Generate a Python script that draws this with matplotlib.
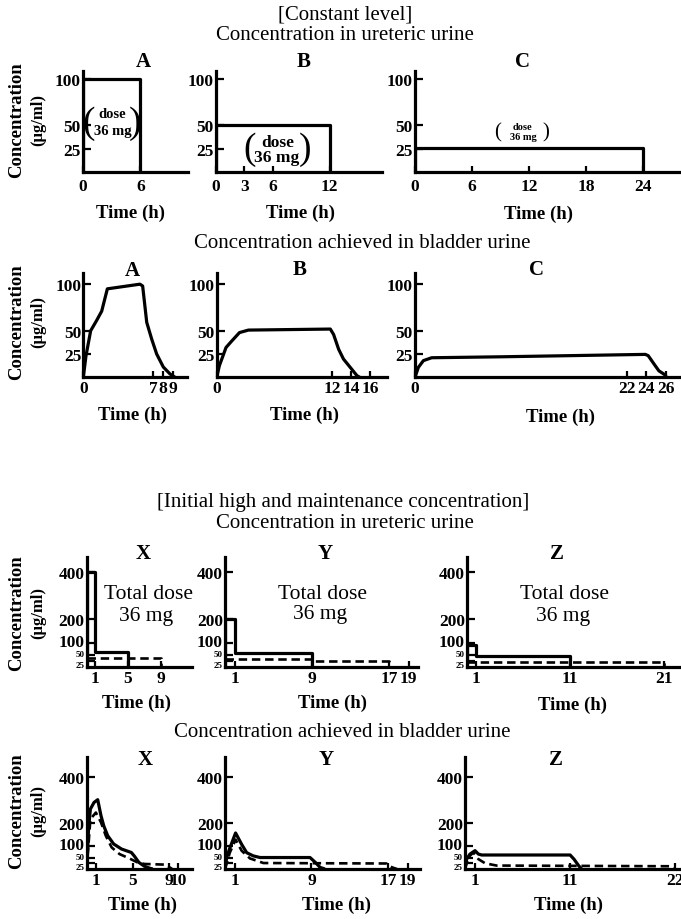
import matplotlib
matplotlib.use("Agg")
import matplotlib.pyplot as plt
from matplotlib.transforms import ScaledTranslation

plt.rcParams['font.family'] = ['Liberation Serif', 'DejaVu Serif']

W, H = 681, 920

# ---------------- data ----------------
# Constant level - ureteric urine (step profiles)
a_ure_t = [0, 0, 6, 6]
a_ure_c = [0, 100, 100, 0]
b_ure_t = [0, 0, 12, 12]
b_ure_c = [0, 50, 50, 0]
c_ure_t = [0, 0, 24, 24]
c_ure_c = [0, 26, 26, 0]

# Constant level - bladder urine
a_bl_t = [0, 0.27, 0.74, 1.34, 1.85, 2.42, 5.7, 5.97, 6.38, 6.88, 7.38, 8.05, 8.72, 9.23]
a_bl_c = [0, 23, 50, 61, 71, 95, 100, 98, 59, 41, 25, 11, 3.6, 0]
b_bl_t = [0, 0.28, 0.97, 1.57, 2.37, 3.3, 11.83, 12.17, 12.7, 13.2, 13.9, 14.6, 14.9]
b_bl_c = [0, 12.5, 32, 39, 48, 50.7, 51.8, 46, 30, 19.6, 10.7, 1.8, 0]
c_bl_t = [0, 0.35, 0.87, 1.73, 8.8, 23.9, 24.2, 24.8, 25.3, 25.8, 26.1]
c_bl_c = [0, 10.7, 17.9, 21, 22, 24.6, 23.2, 14.3, 7, 3.6, 1]

# Initial high + maintenance - ureteric urine (solid) and constant reference (dashed)
x_ure_t = [0, 0, 1, 1, 5, 5]
x_ure_c = [0, 400, 400, 65, 65, 0]
x_ure_ref_t = [0, 9, 9]
x_ure_ref_c = [37, 37, 0]
y_ure_t = [0, 0, 1, 1, 9, 9]
y_ure_c = [0, 200, 200, 58, 58, 0]
y_ure_ref_t = [0, 9, 9, 17, 17]
y_ure_ref_c = [33, 33, 28, 28, 0]
z_ure_t = [0, 0, 1, 1, 11, 11]
z_ure_c = [0, 95, 95, 49, 49, 0]
z_ure_ref_t = [0, 21, 21]
z_ure_ref_c = [22, 22, 0]

# Initial high + maintenance - bladder urine
x_bl_t = [0, 0.2, 0.4, 0.8, 1.2, 1.56, 1.86, 2.29, 2.94, 3.8, 4.87, 5.22, 5.68, 6.29, 6.91, 7.2]
x_bl_c = [0, 174, 261, 290, 302, 232, 188, 145, 109, 87, 72, 55, 29, 12, 3, 0]
x_bl_ref_t = [0, 0.4, 1.0, 1.56, 2.08, 2.72, 3.58, 4.66, 5.52, 6.29, 8.6, 9.05, 9.32]
x_bl_ref_c = [0, 217, 246, 203, 145, 94, 65, 46, 29, 22, 19, 7, 0]
y_bl_t = [0, 0.17, 0.52, 1.1, 1.74, 2.26, 2.95, 3.65, 8.85, 9.4, 9.9, 10.4]
y_bl_c = [0, 50, 93, 157, 107, 71, 57, 50, 50, 29, 7, 0]
y_bl_ref_t = [0, 0.5, 1.1, 1.74, 2.6, 4, 16.8, 17.4, 17.9]
y_bl_ref_c = [0, 71, 128, 79, 46, 26, 24, 7, 0]
z_bl_t = [0, 0.17, 0.52, 1.05, 1.4, 1.75, 11.0, 11.4, 11.9, 12.2]
z_bl_c = [0, 43, 65, 80, 65, 61, 61, 43, 14, 0]
z_bl_ref_t = [0, 0.35, 0.87, 1.4, 2.1, 3.3, 21.5, 22.0]
z_bl_ref_c = [0, 51, 72, 43, 25, 15, 12, 0]

# ticks
ticks_a_ure = [0, 6]
ticks_b_ure = [0, 3, 6, 12]
ticks_c_ure = [0, 6, 12, 18, 24]
ticks_a_bl = [0, 7, 8, 9]
ticks_b_bl = [0, 12, 14, 16]
ticks_c_bl = [0, 22, 24, 26]
ticks_x_ure = [1, 5, 9]
ticks_y_ure = [1, 9, 17, 19]
ticks_z_ure = [1, 11, 21]
ticks_x_bl = [1, 5, 9, 10]
ticks_y_bl = [1, 9, 17, 19]
ticks_z_bl = [1, 11, 22]
conc_ticks_low = [25, 50, 100]
conc_ticks_high = [25, 50, 100, 200, 400]

fig = plt.figure(figsize=(W / 100, H / 100), dpi=100)

LW = 2.3
TICKFS = 12.5


def px(x, y):
    return x / W, 1 - y / H


def shift(lab, dy_px):
    lab.set_transform(lab.get_transform() + ScaledTranslation(0, dy_px / 100, fig.dpi_scale_trans))


def make_ax(xl, xr, yb, yt, xlim, ylim, xticks, yticks, xpad=3, small_low=False):
    ax = fig.add_axes([xl / W, 1 - yb / H, (xr - xl) / W, (yb - yt) / H])
    ax.set_xlim(*xlim)
    ax.set_ylim(*ylim)
    for s in ['top', 'right']:
        ax.spines[s].set_visible(False)
    for s in ['left', 'bottom']:
        ax.spines[s].set_linewidth(LW)
        ax.spines[s].set_capstyle('projecting')
    ax.set_xticks(xticks)
    ax.set_xticklabels([str(t) for t in xticks])
    ax.set_yticks(yticks)
    ax.set_yticklabels([str(t) for t in yticks])
    ax.tick_params(axis='both', direction='in', width=1.6, labelsize=TICKFS)
    ax.tick_params(axis='y', length=6, pad=1.5)
    ax.tick_params(axis='x', length=4, pad=xpad)
    for lab in ax.get_xticklabels() + ax.get_yticklabels():
        lab.set_fontweight('bold')
    if small_low:
        for lab, v in zip(ax.get_yticklabels(), yticks):
            if v == 50:
                lab.set_fontsize(6.5)
                shift(lab, 2.0)
            elif v == 25:
                lab.set_fontsize(6.5)
                shift(lab, -2.5)
            elif v == 100:
                shift(lab, 3.0)
    ax.patch.set_alpha(0)
    return ax


def solid(ax, t, c):
    ax.plot(t, c, color='black', lw=LW, solid_joinstyle='round', solid_capstyle='butt')


def dashed(ax, t, c):
    ax.plot(t, c, color='black', lw=1.9, linestyle=(0, (3.2, 1.8)))


def text(x, y, s, size, weight='normal', **kw):
    fx, fy = px(x, y)
    fig.text(fx, fy, s, fontsize=size, fontweight=weight, ha='center', va='center', **kw)


# ---------------- Row 1 ----------------
ax = make_ax(82.5, 187.6, 173.3, 72, (0, 10.9), (0, 108), ticks_a_ure, conc_ticks_low, xpad=4)
solid(ax, a_ure_t, a_ure_c)
ax = make_ax(215.8, 382, 173.3, 72, (0, 17.5), (0, 108), ticks_b_ure, conc_ticks_low, xpad=4)
solid(ax, b_ure_t, b_ure_c)
ax = make_ax(414.8, 681, 173.3, 72, (0, 28), (0, 108), ticks_c_ure, conc_ticks_low, xpad=4)
solid(ax, c_ure_t, c_ure_c)

# ---------------- Row 2 ----------------
ax = make_ax(83.3, 186.7, 378.3, 274, (0, 10.4), (0, 112), ticks_a_bl, conc_ticks_low, xpad=2)
solid(ax, a_bl_t, a_bl_c)
ax = make_ax(216.7, 386.7, 378.3, 274, (0, 17.7), (0, 112), ticks_b_bl, conc_ticks_low, xpad=2)
solid(ax, b_bl_t, b_bl_c)
ax = make_ax(415, 681, 378.3, 274, (0, 27.6), (0, 112), ticks_c_bl, conc_ticks_low, xpad=2)
solid(ax, c_bl_t, c_bl_c)

# ---------------- Row 3 ----------------
ax = make_ax(86.7, 191.7, 668.3, 558, (0, 12.8), (0, 461), ticks_x_ure, conc_ticks_high, xpad=2, small_low=True)
solid(ax, x_ure_t, x_ure_c)
dashed(ax, x_ure_ref_t, x_ure_ref_c)
ax = make_ax(225, 418.3, 668.3, 558, (0, 20.0), (0, 461), ticks_y_ure, conc_ticks_high, xpad=2, small_low=True)
solid(ax, y_ure_t, y_ure_c)
dashed(ax, y_ure_ref_t, y_ure_ref_c)
ax = make_ax(466.9, 681, 668.3, 558, (0, 22.8), (0, 461), ticks_z_ure, conc_ticks_high, xpad=2, small_low=True)
solid(ax, z_ure_t, z_ure_c)
dashed(ax, z_ure_ref_t, z_ure_ref_c)

# ---------------- Row 4 ----------------
ax = make_ax(86.7, 191.7, 870, 758, (0, 11.45), (0, 488), ticks_x_bl, conc_ticks_high, xpad=2, small_low=True)
solid(ax, x_bl_t, x_bl_c)
dashed(ax, x_bl_ref_t, x_bl_ref_c)
ax = make_ax(225, 420, 870, 758, (0, 20.3), (0, 488), ticks_y_bl, conc_ticks_high, xpad=2, small_low=True)
solid(ax, y_bl_t, y_bl_c)
dashed(ax, y_bl_ref_t, y_bl_ref_c)
ax = make_ax(465, 681, 870, 758, (0, 22.6), (0, 488), ticks_z_bl, conc_ticks_high, xpad=2, small_low=True)
solid(ax, z_bl_t, z_bl_c)
dashed(ax, z_bl_ref_t, z_bl_ref_c)

# ---------------- Titles & labels ----------------
TFS = 15
text(345, 15, "[Constant level]", TFS)
text(345, 35, "Concentration in ureteric urine", TFS)
text(362, 243, "Concentration achieved in bladder urine", TFS)
text(343, 503, "[Initial high and maintenance concentration]", TFS)
text(345, 524, "Concentration in ureteric urine", TFS)
text(342, 733, "Concentration achieved in bladder urine", TFS)

LFS = 15
for (x, y, s) in [(143, 62, "A"), (304, 62, "B"), (523, 62, "C"),
                  (132, 271, "A"), (300, 270, "B"), (537, 270, "C"),
                  (143, 554, "X"), (325, 554, "Y"), (557, 554, "Z"),
                  (145, 760, "X"), (326, 760, "Y"), (556, 760, "Z")]:
    text(x, y, s, LFS, 'bold')

TIMEFS = 13.5
for (x, y) in [(130, 213), (300, 213), (539, 214),
               (133, 415), (304, 415), (560, 417),
               (137, 703), (332, 703), (573, 705),
               (143, 905), (337, 905), (568, 905)]:
    text(x, y, "Time (h)", TIMEFS, 'bold')

for yc in [120, 322, 613, 811]:
    text(17, yc, "Concentration", 13.5, 'bold', rotation=90)
    text(38, yc, "(μg/ml)", 12, 'bold', rotation=90)

# dose annotations (constant level, ureteric)
text(89, 124, "(", 27)
text(135, 124, ")", 27)
text(112, 115, "dose", 10.5, 'bold')
text(113, 132, "36 mg", 10.5, 'bold')

text(250, 150, "(", 27)
text(305, 150, ")", 27)
text(278, 143, "dose", 12.5, 'bold')
text(277, 158, "36 mg", 12.5, 'bold')

text(498, 133, "(", 15)
text(546, 133, ")", 15)
text(522, 128, "dose", 7.5, 'bold')
text(523, 138, "36 mg", 7.5, 'bold')

for (x, y1, y2) in [(148, 595, 617), (322, 595, 615), (565, 595, 617)]:
    text(x, y1, "Total dose", 15.5)
    text(x - 2, y2, "36 mg", 15.5)

fig.savefig("out.png", dpi=100)
